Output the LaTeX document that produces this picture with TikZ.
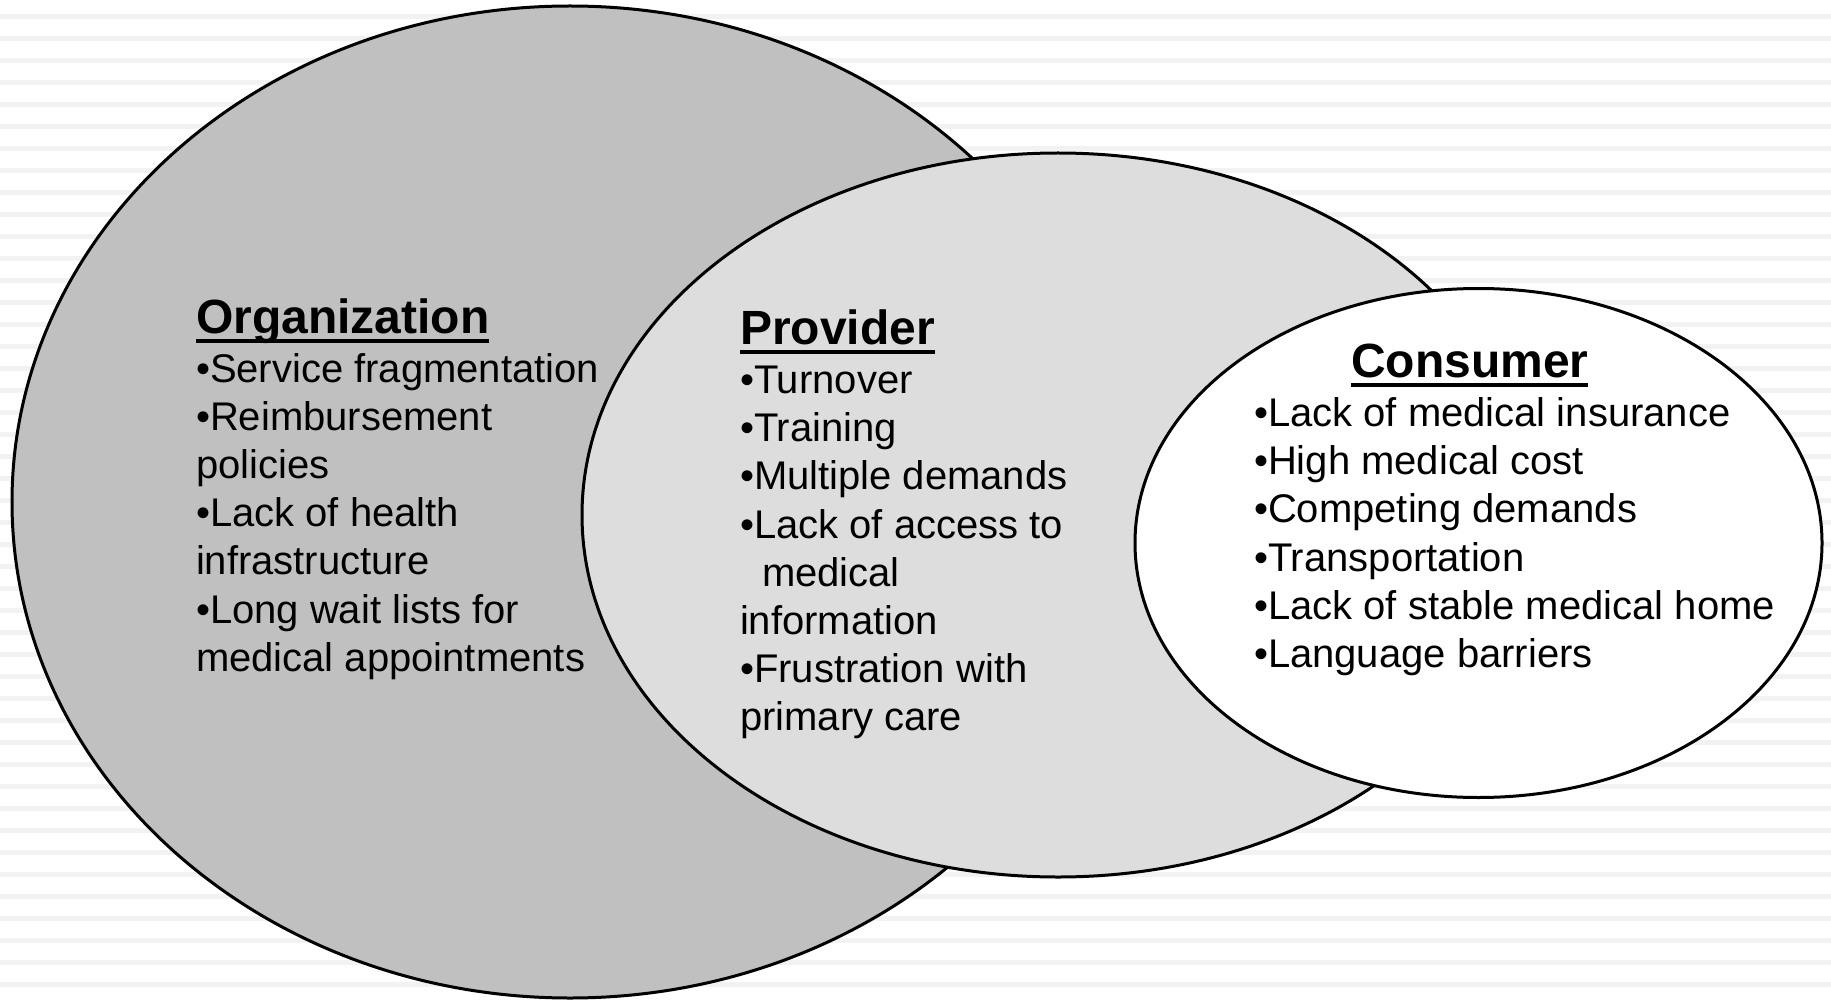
\documentclass[tikz,border=0pt]{standalone}
\usepackage{fontspec}
\setmainfont{Liberation Sans}
\usetikzlibrary{shapes.geometric}

% bold heading with a heavy underline set at a fixed depth
\newcommand{\headline}[1]{%
  \setbox0\hbox{\fontsize{48}{48}\selectfont\bfseries #1}%
  \rlap{\rule[-9.6pt]{\wd0}{3.8pt}}\box0}

\definecolor{stripe}{RGB}{242,242,242}
\definecolor{orgfill}{RGB}{192,192,192}
\definecolor{provfill}{RGB}{221,221,221}

\tikzset{
  blob/.style={ellipse, draw=black, line width=3pt, inner sep=0pt, outer sep=0pt},
  headtext/.style={anchor=base west, inner sep=0pt, outer sep=0pt},
  listtext/.style={anchor=base west, inner sep=0pt, outer sep=0pt,
                   font=\fontsize{40}{48.2}\selectfont},
}

\begin{document}
\begin{tikzpicture}[x=1pt, y=-1pt]
  \useasboundingbox (0,0) rectangle (1831,1000);

  % striped background
  \fill[white] (0,0) rectangle (1831,1000);
  \foreach \k in {0,...,44} {
    \fill[stripe] (0,{14+22*\k}) rectangle (1831,{18.7+22*\k});
  }

  % the three overlapping regions
  \node[blob, fill=orgfill, minimum width=1116pt, minimum height=992pt]
    (org) at (570,502) {};
  \node[blob, fill=provfill, minimum width=952pt, minimum height=724pt]
    (prov) at (1058,515) {};
  \node[blob, fill=white, minimum width=687pt, minimum height=509pt]
    (cons) at (1478.5,543) {};

  % Organization
  \node[headtext] (orgtitle) at (196,333.5) {\headline{Organization}};
  \node[listtext] (orglist) at (196,382) {\begin{tabular}[t]{@{}l@{}}
    •Service fragmentation\\
    •Reimbursement\\
    policies\\
    •Lack of health\\
    infrastructure\\
    •Long wait lists for\\
    medical appointments
  \end{tabular}};

  % Provider
  \node[headtext] (provtitle) at (740,344.5) {\headline{Provider}};
  \node[listtext] (provlist) at (740,393.5) {\begin{tabular}[t]{@{}l@{}}
    •Turnover\\
    •Training\\
    •Multiple demands\\
    •Lack of access to\\
    \hspace*{22pt}medical\\
    information\\
    •Frustration with\\
    primary care
  \end{tabular}};

  % Consumer
  \node[headtext] (constitle) at (1351,377) {\headline{Consumer}};
  \node[listtext] (conslist) at (1254,426.5) {\begin{tabular}[t]{@{}l@{}}
    •Lack of medical insurance\\
    •High medical cost\\
    •Competing demands\\
    •Transportation\\
    •Lack of stable medical home\\
    •Language barriers
  \end{tabular}};
\end{tikzpicture}
\end{document}
